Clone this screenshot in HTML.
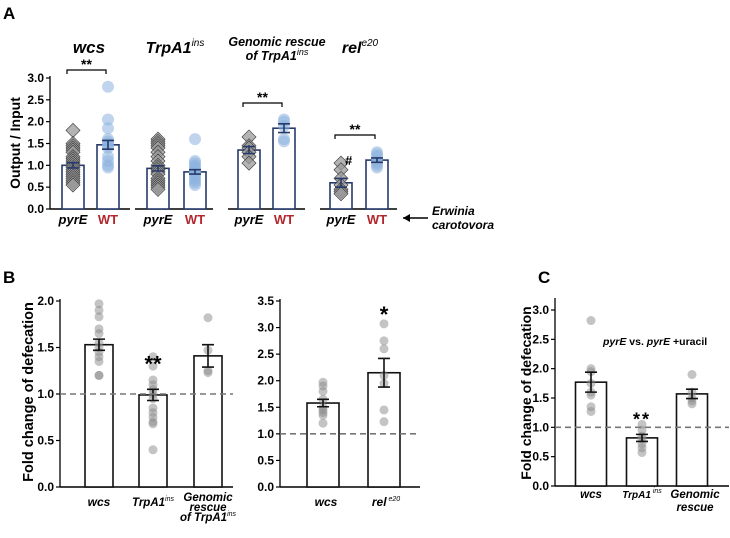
<!DOCTYPE html>
<html><head><meta charset="utf-8"><style>
html,body{margin:0;padding:0;background:#fff;width:730px;height:538px;overflow:hidden}
svg{display:block;font-family:"Liberation Sans",sans-serif}
</style></head><body>
<svg id="fig" width="730" height="538" viewBox="0 0 730 538">
<text x="3" y="19" font-size="17" font-weight="bold">A</text>
<text x="3" y="283" font-size="17" font-weight="bold">B</text>
<text x="538" y="283" font-size="17" font-weight="bold">C</text>
<text x="89" y="53" font-size="17" font-weight="bold" font-style="italic" text-anchor="middle">wcs</text>
<text x="175" y="53" font-size="16" font-weight="bold" font-style="italic" text-anchor="middle">TrpA1<tspan font-size="10" dy="-7" font-weight="normal">ins</tspan></text>
<text x="277" y="46" font-size="12.5" font-weight="bold" font-style="italic" text-anchor="middle">Genomic rescue</text>
<text x="277" y="60" font-size="12.5" font-weight="bold" font-style="italic" text-anchor="middle">of TrpA1<tspan font-size="9" dy="-5" font-weight="normal">ins</tspan></text>
<text x="360" y="53" font-size="16" font-weight="bold" font-style="italic" text-anchor="middle">rel<tspan font-size="10" dy="-7" font-weight="normal">e20</tspan></text>
<text transform="translate(20,143) rotate(-90)" font-size="14" font-weight="bold" text-anchor="middle">Output / Input</text>
<line x1="403" y1="218" x2="428" y2="218" stroke="#000" stroke-width="1.5"/>
<polygon points="403,218 410,214 410,222" fill="#000"/>
<text x="432" y="215" font-size="12" font-weight="bold" font-style="italic">Erwinia</text>
<text x="432" y="229" font-size="12" font-weight="bold" font-style="italic">carotovora</text>
<text transform="translate(33,392) rotate(-90)" font-size="14.5" font-weight="bold" text-anchor="middle">Fold change of defecation</text>
<text transform="translate(531,393) rotate(-90)" font-size="14" font-weight="bold" text-anchor="middle">Fold change of defecation</text>
<text x="603" y="345" font-size="10.5" font-weight="bold"><tspan font-style="italic">pyrE</tspan> vs. <tspan font-style="italic">pyrE</tspan> +uracil</text>
</svg>
<script>
// ---- data ----
const aGroups = ["wcs","TrpA1ins","Genomic rescue","rele20"];
const aMeans = [[1.0,1.47],[0.93,0.85],[1.35,1.85],[0.6,1.12]];
const aSems = [[0.06,0.1],[0.06,0.05],[0.08,0.1],[0.1,0.05]];
const aPyrE = [[1.8,1.5,1.45,1.4,1.35,1.3,1.2,1.15,1.1,1.05,1.0,0.95,0.9,0.85,0.8,0.75,0.7,0.65,0.6,0.55],
 [1.6,1.55,1.5,1.45,1.4,1.3,1.2,1.1,1.0,0.95,0.9,0.85,0.8,0.7,0.65,0.6,0.55,0.5,0.45],
 [1.65,1.45,1.4,1.3,1.2,1.05],
 [1.05,0.9,0.7,0.55,0.45,0.4,0.35]];
const aWT = [[2.8,2.05,1.85,1.6,1.55,1.5,1.45,1.4,1.2,1.1,1.0,0.95],
 [1.6,1.1,1.05,1.0,0.95,0.9,0.85,0.8,0.75,0.7,0.65,0.6,0.55],
 [2.05,2.0,1.9,1.6,1.55],
 [1.3,1.25,1.2,1.1,1.05,1.0,0.95]];
const aTicks = ["0.0","0.5","1.0","1.5","2.0","2.5","3.0"];
const b1Cats = ["wcs","TrpA1","Genomic"];
const b1Means = [1.53,0.99,1.41];
const b1Sems = [0.06,0.06,0.12];
const b1Pts = [[1.97,1.9,1.83,1.7,1.65,1.55,1.5,1.45,1.4,1.35,1.2,1.2],
 [1.4,1.3,1.15,1.1,1.05,1.0,0.95,0.85,0.8,0.75,0.7,0.68,0.4],
 [1.82,1.47,1.25,1.23]];
const b1Ticks = ["0.0","0.5","1.0","1.5","2.0"];
const b2Cats = ["wcs","rel"];
const b2Means = [1.58,2.15];
const b2Sems = [0.07,0.27];
const b2Pts = [[1.97,1.9,1.8,1.65,1.5,1.45,1.4,1.35,1.2],[3.07,2.75,2.6,2.1,1.95,1.45,1.23]];
const b2Ticks = ["0.0","0.5","1.0","1.5","2.0","2.5","3.0","3.5"];
const cCats = ["wcs","TrpA1","Genomic"];
const cMeans = [1.77,0.82,1.57];
const cSems = [0.17,0.06,0.08];
const cPts = [[2.82,2.0,1.95,1.75,1.6,1.55,1.35,1.27],[1.05,0.95,0.85,0.8,0.72,0.65,0.57],[1.9,1.6,1.5,1.45,1.4]];
const cTicks = ["0.0","0.5","1.0","1.5","2.0","2.5","3.0"];

const svg = document.getElementById('fig');
const NS = "http://www.w3.org/2000/svg";
function mk(tag, attrs){const e=document.createElementNS(NS,tag);for(const k in attrs)e.setAttribute(k,attrs[k]);svg.appendChild(e);return e;}
function txt(x,y,s,attrs){const e=mk('text',Object.assign({x:x,y:y},attrs));e.textContent=s;return e;}

// Panel A axes
const aY0=209, aPx=131/3.0;
const ay = v => aY0 - v*aPx;
const aAxes=[[50,130],[135,213],[228,305],[320,397]];
const aBarX=[[73,108],[158,195],[249,284],[341,377]];
const navy="#263a6b";
let e=mk('line',{x1:50,y1:ay(3.0)-2,x2:50,y2:aY0,stroke:"#000","stroke-width":1.3});


aTicks.forEach((t,i)=>{const v=parseFloat(t);
 mk('line',{x1:46,y1:ay(v),x2:50,y2:ay(v),stroke:"#000","stroke-width":1.2});
 e=txt(44,ay(v)+4,t,{"font-size":12,"font-weight":"bold","text-anchor":"end"});
 
 
});
aGroups.forEach((g,gi)=>{
 e=mk('line',{x1:aAxes[gi][0],y1:aY0,x2:aAxes[gi][1],y2:aY0,stroke:"#000","stroke-width":1.5});
 
 
 [0,1].forEach(k=>{
  const cx=aBarX[gi][k], m=aMeans[gi][k], s=aSems[gi][k];
  e=mk('rect',{x:cx-11,y:ay(m),width:22,height:aY0-ay(m),fill:"#fff",stroke:navy,"stroke-width":1.6});
  
  
  const pts = k===0?aPyrE[gi]:aWT[gi];
  pts.forEach(v=>{
   if(k===0){e=mk('rect',{x:cx-5,y:ay(v)-5,width:10,height:10,transform:`rotate(45 ${cx} ${ay(v)})`,fill:"#999","fill-opacity":0.75,stroke:"#333","stroke-width":0.6});}
   else{e=mk('circle',{cx:cx,cy:ay(v),r:6,fill:"#8db3de","fill-opacity":0.55});}
   
   
  });
  e=mk('path',{d:`M${cx-6},${ay(m+s)}H${cx+6}M${cx},${ay(m+s)}V${ay(m-s)}M${cx-6},${ay(m-s)}H${cx+6}`,stroke:navy,"stroke-width":1.6,fill:"none"});
  
  
  e=txt(cx,224,k===0?"pyrE":"WT",{"font-size":13,"font-weight":"bold","font-style":k===0?"italic":"normal",fill:k===0?"#000":"#b3262d","text-anchor":"middle"});
  
  
 });
});
[[0,70],[2,103],[3,135]].forEach(([gi,y])=>{
 const x1=aBarX[gi][0]-6,x2=aBarX[gi][1]-2;
 e=mk('path',{d:`M${x1},${y+4}V${y}H${x2}V${y+4}`,stroke:"#000","stroke-width":1.2,fill:"none"});
 
 
 e=txt((x1+x2)/2,y-1,"**",{"font-size":14,"font-weight":"bold","text-anchor":"middle"});
 
 
});
e=txt(345,165,"#",{"font-size":13,"font-weight":"bold"});



// generic bar panel
function panel(o){
 const y=v=>o.y0-v*o.px;
 e=mk('line',{x1:o.ax,y1:o.axTop,x2:o.ax,y2:o.y0,stroke:"#000","stroke-width":1.3});
 
 
 e=mk('line',{x1:o.ax,y1:o.y0,x2:o.axEnd,y2:o.y0,stroke:"#000","stroke-width":1.5});
 
 
 o.ticks.forEach(t=>{const v=parseFloat(t);
  mk('line',{x1:o.ax-4,y1:y(v),x2:o.ax,y2:y(v),stroke:"#000","stroke-width":1.2});
  e=txt(o.ax-6,y(v)+4,t,{"font-size":12,"font-weight":"bold","text-anchor":"end"});
  
  
 });
 o.means.forEach((m,i)=>{
  const cx=o.cx[i], s=o.sems[i];
  e=mk('rect',{x:cx-o.bw/2,y:y(m),width:o.bw,height:o.y0-y(m),fill:"#fff",stroke:"#111","stroke-width":1.6});
  
  
  o.pts[i].forEach(v=>{
   e=mk('circle',{cx:cx,cy:y(v),r:4.5,fill:"#8a8a8a","fill-opacity":0.5});
   
   
  });
  e=mk('path',{d:`M${cx-6},${y(m+s)}H${cx+6}M${cx},${y(m+s)}V${y(m-s)}M${cx-6},${y(m-s)}H${cx+6}`,stroke:"#111","stroke-width":1.6,fill:"none"});
  
  
 });
 e=mk('line',{x1:o.ax,y1:y(1),x2:o.axEnd,y2:y(1),stroke:"#777","stroke-width":1.6,"stroke-dasharray":"6,4"});
 
 
 return y;
}
const yb1=panel({id:'b1',ax:60,axTop:299,axEnd:233,y0:487,px:186/2.0,ticks:b1Ticks,means:b1Means,sems:b1Sems,pts:b1Pts,cx:[99,153,208],bw:28});
const yb2=panel({id:'b2',ax:280,axTop:299,axEnd:420,y0:487,px:186/3.5,ticks:b2Ticks,means:b2Means,sems:b2Sems,pts:b2Pts,cx:[323,384],bw:32});
const yc=panel({id:'c',ax:555,axTop:298,axEnd:729,y0:486,px:176/3.0,ticks:cTicks,means:cMeans,sems:cSems,pts:cPts,cx:[591,642,692],bw:31});

function lab(x,y,s,fs,name,anchor){e=txt(x,y,s,{"font-size":fs,"font-weight":"bold","font-style":"italic","text-anchor":anchor||"middle"});
 
 return e;}
lab(99,506,"wcs",12,'x-label-wcs-b');
e=lab(153,506,"TrpA1",11.5,'x-label-trpa1-b');e.innerHTML='TrpA1<tspan font-size="7" dy="-5" font-weight="normal">ins</tspan>';
lab(208,501,"Genomic",11.5,'x-label-genomic-b');
lab(208,511,"rescue",11.5,'x-label-rescue-b');
e=lab(208,521,"",11.5,'x-label-of-trpa1-b');e.innerHTML='of TrpA1<tspan font-size="7" dy="-5" font-weight="normal">ins</tspan>';
lab(326,506,"wcs",12,'x-label-wcs-b2');
e=lab(386,506,"",12,'x-label-rel-b2');e.innerHTML='rel<tspan font-size="7" dy="-5" font-weight="normal"> e20</tspan>';
lab(591,498,"wcs",11.5,'x-label-wcs-c');
e=lab(642,498,"",10,'x-label-trpa1-c');e.innerHTML='TrpA1<tspan font-size="7" dy="-5" font-weight="normal"> ins</tspan>';
lab(695,498,"Genomic",11.5,'x-label-genomic-c');
lab(695,511,"rescue",11.5,'x-label-rescue-c');
e=txt(153,yb1(b1Means[1]+b1Sems[1])-18,"**",{"font-size":22,"font-weight":"bold","text-anchor":"middle"});


e=txt(384,yb2(3.07)-2,"*",{"font-size":22,"font-weight":"bold","text-anchor":"middle"});


e=txt(642,yc(1.05)+1,"**",{"font-size":18,"font-weight":"bold","text-anchor":"middle","letter-spacing":"2"});


</script>
</body></html>
